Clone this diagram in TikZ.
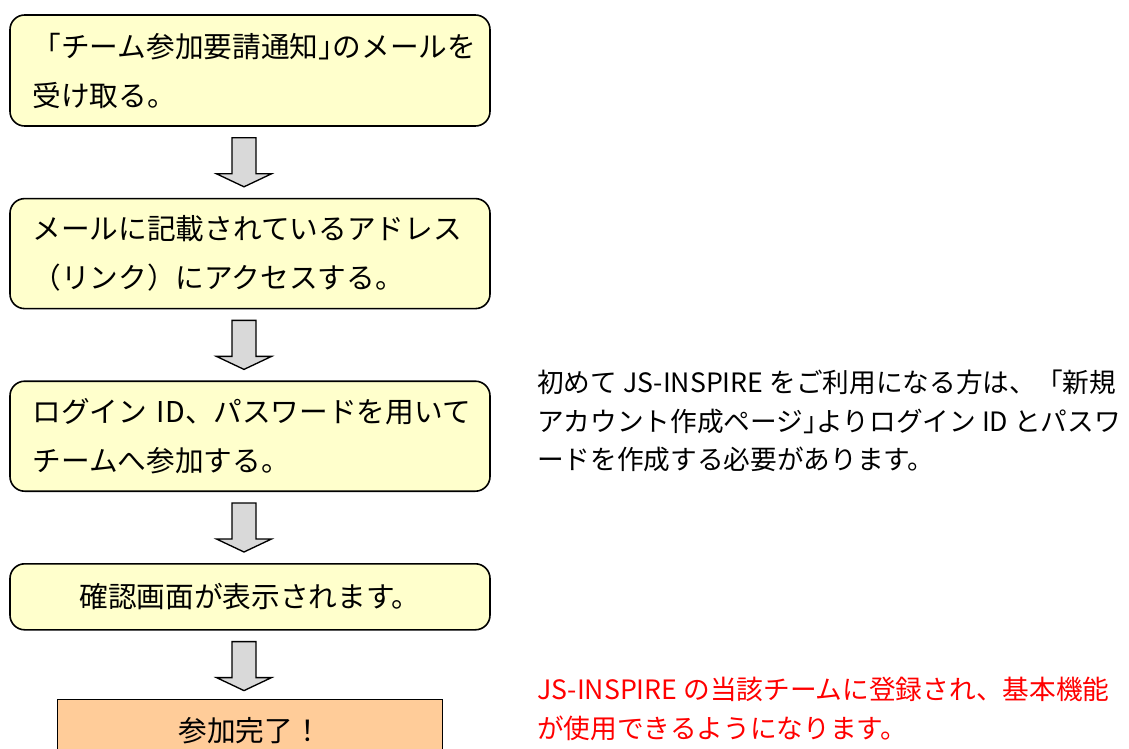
\documentclass[tikz,border=0pt]{standalone}
\usepackage{fontspec}
\setmainfont{Noto Sans CJK JP}
\usetikzlibrary{positioning}
\definecolor{boxyellow}{HTML}{FFFFCC}
\definecolor{boxorange}{HTML}{FFCC99}
\definecolor{arrowgray}{HTML}{D9D9D9}
\newcommand{\closeq}{」\kern-.5em}

\begin{document}
\begin{tikzpicture}[x=0.75pt, y=-0.75pt,
    stepbox/.style={draw=black, line width=1.2pt, fill=boxyellow, rounded corners=11pt, minimum width=360pt, text width=336pt, inner xsep=12pt, inner ysep=0pt, align=left, font=\fontsize{21.5}{36.75}\selectfont},
    donebox/.style={draw=black, line width=1.2pt, fill=boxorange, minimum width=288.75pt, minimum height=46.5pt, font=\fontsize{21.5}{36}\selectfont},
    memo/.style={anchor=west, align=left, inner sep=0pt, font=\fontsize{20}{29}\selectfont},
    blockarrow/.style={draw=black, line width=1pt, fill=arrowgray, line join=miter}]
    \useasboundingbox (0,0) rectangle (1129,749);
    % flow boxes
    \node[stepbox, minimum height=83.25pt] at (250,70.5) (s1) {\hspace*{5pt}「チーム参加要請通知\closeq のメールを\\\hspace*{5pt}受け取る。};
    \node[stepbox, minimum height=82.5pt, below=53.25pt of s1] (s2) {\hspace*{5pt}メールに記載されているアドレス\\\hspace*{5pt}（リンク）にアクセスする。};
    \node[stepbox, minimum height=82.5pt, below=53.25pt of s2] (s3) {\hspace*{5pt}ログイン~ID、パスワードを用いて\\\hspace*{5pt}チームへ参加する。};
    \node[stepbox, minimum height=49.5pt, align=center, below=53.25pt of s3] (s4) {確認画面が表示されます。};
    \node[donebox, below=51pt of s4] (done) {参加完了！};
    % block arrows
    \foreach \a in {s1,s2,s3,s4}
        \draw[blockarrow] ([xshift=-4.5pt, yshift=-8.25pt]\a.south) ++(-12,0) -- ++(0,36) -- ++(-15.5,0) -- ++(27.5,13) -- ++(27.5,-13) -- ++(-15.5,0) -- ++(0,-36) -- cycle;
    % notes
    \node[memo] at (537,421) (info) {初めて JS-INSPIRE をご利用になる方は、「新規\\アカウント作成ページ\closeq よりログイン ID とパスワ\\ードを作成する必要があります。};
    \node[memo, text=red] at (537,709) (result) {JS-INSPIRE の当該チームに登録され、基本機能\\が使用できるようになります。};
\end{tikzpicture}
\end{document}
